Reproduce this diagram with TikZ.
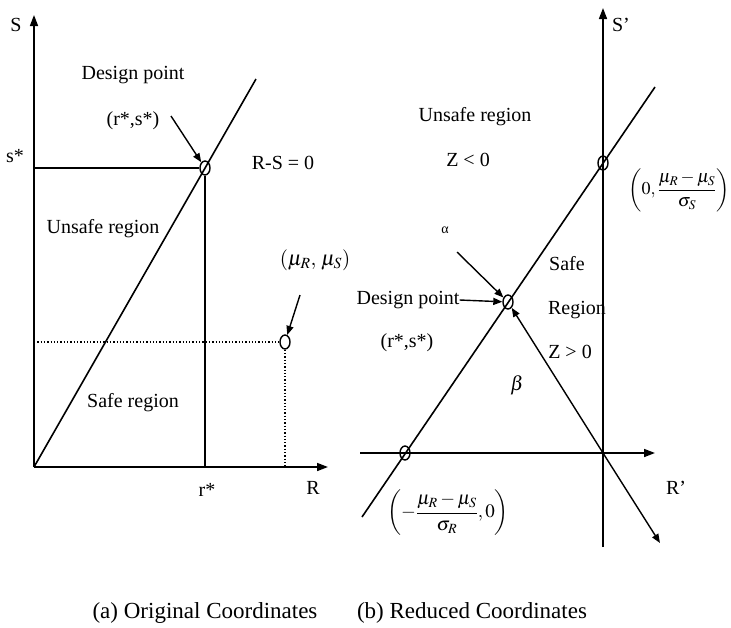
\documentclass[tikz,border=0pt]{standalone}
\usepackage{amsmath}
\usepackage{mathptmx}
\usepackage{fontspec}
\setmainfont{Liberation Serif}
\usetikzlibrary{shapes.geometric, arrows.meta, positioning}
\tikzset{
  axis/.style={-{Triangle[length=11pt,width=8pt]}, line width=1.6pt},
  line/.style={line width=1.6pt},
  dotline/.style={line width=1.3pt, dotted},
  arrow/.style={-{Triangle[length=9pt,width=7pt]}, line width=1.4pt},
  dpoint/.style={ellipse, draw, line width=1.4pt, minimum width=10pt,
    minimum height=14pt, inner sep=0pt},
  lbl/.style={inner sep=0pt, font=\fontsize{20}{24}\selectfont},
  mlbl/.style={inner sep=0pt, font=\fontsize{19}{23}\selectfont},
  captext/.style={inner sep=0pt, font=\fontsize{23}{27}\selectfont}
}

\begin{document}
\begin{tikzpicture}[x=1pt, y=-1pt]
  \useasboundingbox (0,0) rectangle (731,627);

  % (a) original coordinates
  \coordinate (o1) at (34,467);
  \coordinate (stop) at (34,15);
  \coordinate (rtop) at (328,467);
  \coordinate (lsend) at (256,79);
  \coordinate (sstar) at (34,168);
  \coordinate (rstar) at (205,467);
  \coordinate (mus) at (34,342);
  \coordinate (mur) at (285,467);
  \node[dpoint] (dp1) at (205,168) {};
  \node[dpoint] (mu) at (285,342) {};

  \draw[axis] (o1) -- (stop);
  \draw[axis] (o1) -- (rtop);
  \draw[line] (o1) -- (lsend);
  \draw[line] (sstar) -- (dp1);
  \draw[line] (dp1) -- (rstar);
  \draw[dotline] (mus) -- (mu);
  \draw[dotline] (mu) -- (mur);

  \node[lbl] (slbl) at (16,25) {S};
  \node[lbl] (sslbl) at (15,156) {s*};
  \node[lbl] (dplbl1) at (133,75) {Design point};
  \node[lbl] (rs1) at (133,121) {(r*,s*)};
  \node[lbl] (lsf) at (283,163) {R-S = 0};
  \node[lbl] (unsafe1) at (103,229) {Unsafe region};
  \node[mlbl, font=\fontsize{21}{25}\selectfont] (mulbl) at (315,260) {$\left(\mu_R,\, \mu_S\right)$};
  \node[lbl] (safe1) at (133,403) {Safe region};
  \node[lbl] (rslbl) at (207,490) {r*};
  \node[lbl] (rlbl) at (313,488) {R};

  \coordinate (a1) at (171,116);
  \coordinate (a2) at (300,295);
  \draw[arrow] (a1) -- (dp1);
  \draw[arrow] (a2) -- (mu);

  % (b) reduced coordinates
  \coordinate (o2) at (603,453);
  \coordinate (sptop) at (603,8);
  \coordinate (spbot) at (603,547);
  \coordinate (rpl) at (360,453);
  \coordinate (rpr) at (655,453);
  \coordinate (lsa) at (362,517);
  \coordinate (lsb) at (655,87);
  \coordinate (bend) at (660,543);
  \node[dpoint] (dp2) at (508,302) {};
  \node[dpoint] (sint) at (603,163) {};
  \node[dpoint] (rint) at (405,453) {};

  \draw[axis] (spbot) -- (sptop);
  \draw[axis] (rpl) -- (rpr);
  \draw[line] (lsa) -- (lsb);
  \draw[arrow] (o2) -- (dp2);
  \draw[arrow] (o2) -- (bend);

  \node[lbl] (splbl) at (621,25) {S'};
  \node[lbl] (rplbl) at (676,488) {R'};
  \node[lbl] (unsafe2) at (475,117) {Unsafe region};
  \node[lbl] (zneg) at (468,160) {Z < 0};
  \node[mlbl, font=\fontsize{18}{22}\selectfont] (slbl2) at (679,190) {$\left(0, \dfrac{\mu_R-\mu_S}{\sigma_S}\right)$};
  \node[inner sep=0pt, font=\fontsize{14}{16}\selectfont] (alpha) at (445,230) {α};
  \node[lbl] (safe2) at (567,264) {Safe};
  \node[lbl] (region2) at (577,310) {Region};
  \node[lbl] (zpos) at (570,352) {Z > 0};
  \node[lbl] (dplbl2) at (408,300) {Design point};
  \node[lbl] (rs2) at (407,343) {(r*,s*)};
  \node[lbl] (beta) at (517,385) {$\beta$};
  \node[mlbl] (rlbl2) at (448,513) {$\left(-\dfrac{\mu_R-\mu_S}{\sigma_R},0\right)$};

  \coordinate (a3) at (457,252);
  \draw[arrow] (a3) -- (dp2);
  \draw[arrow] (dplbl2.east) -- (dp2);

  % captions
  \node[captext] (capa) at (205,613) {(a) Original Coordinates};
  \node[captext] (capb) at (472,613) {(b) Reduced Coordinates};
\end{tikzpicture}
\end{document}
